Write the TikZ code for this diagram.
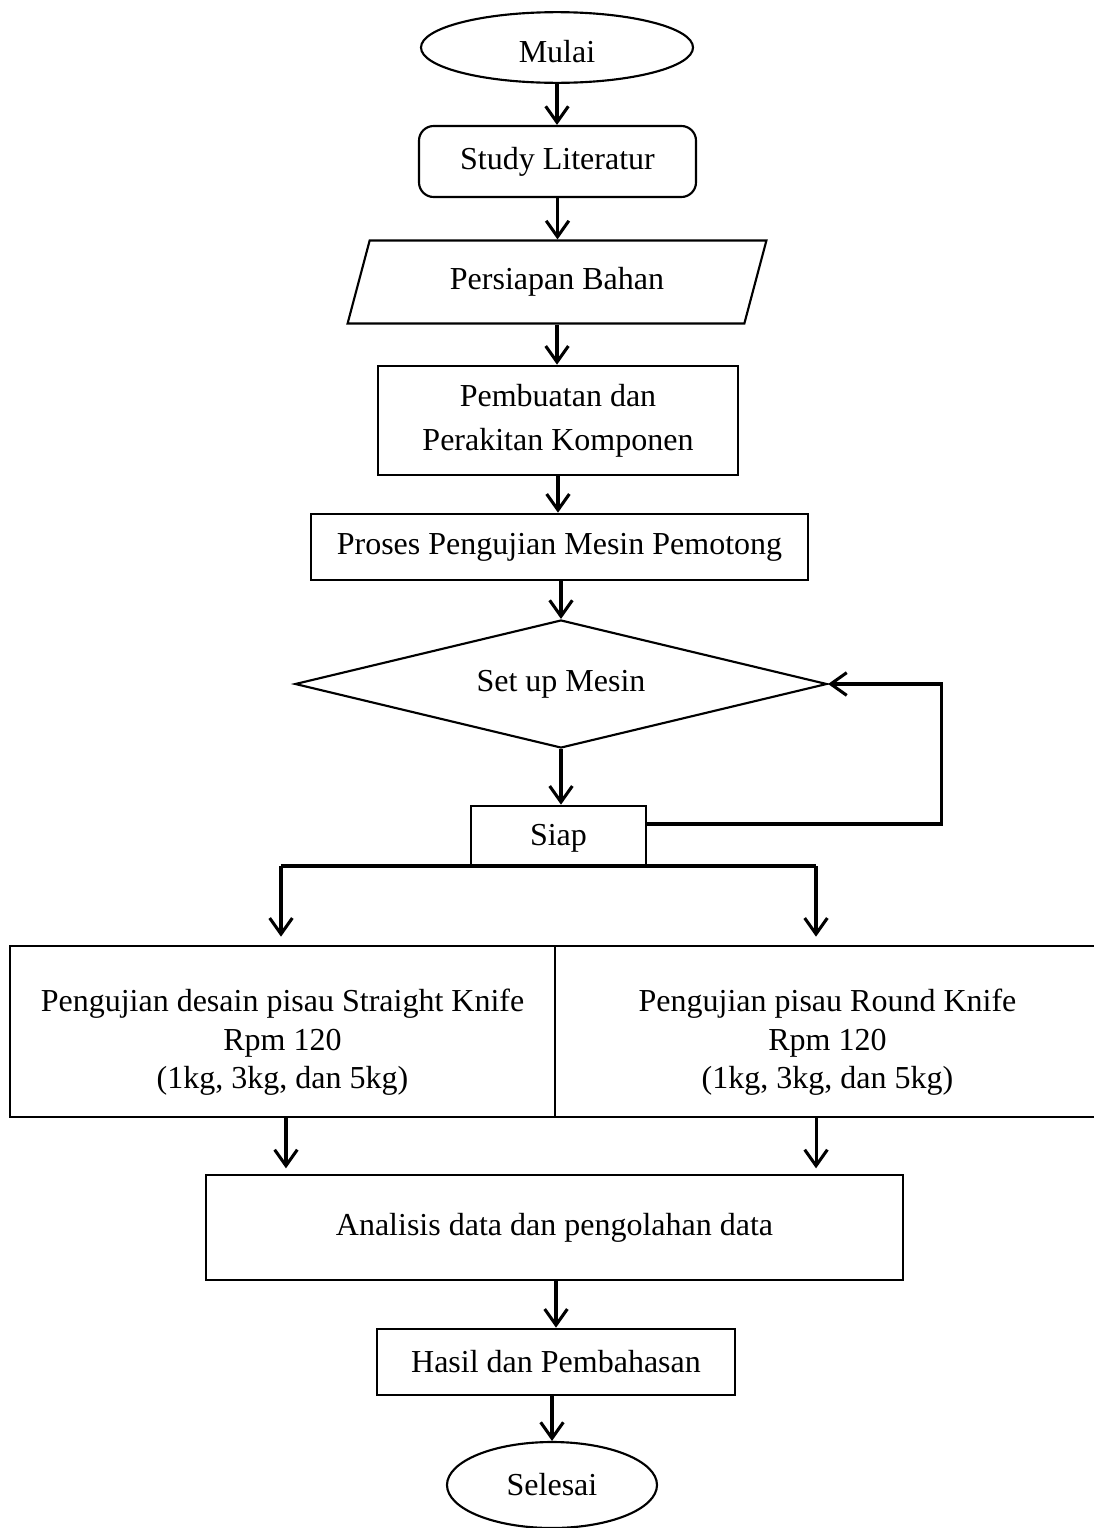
\documentclass[tikz,border=0pt]{standalone}
\usepackage{fontspec}
\setmainfont{Liberation Serif}
\usetikzlibrary{shapes.geometric,arrows.meta}

\tikzset{every picture/.style={line width=2pt}}
\tikzset{
	huruf/.style={font=\fontsize{24}{29}\selectfont, align=center},
	terminal/.style={huruf, draw, ellipse, inner sep=0pt, line width=1.6pt},
	kotak/.style={huruf, draw, rectangle, inner sep=0pt},
	kotakbulat/.style={kotak, rounded corners=11pt, line width=1.6pt},
	masukan/.style={huruf, draw, trapezium, trapezium stretches=true, trapezium left angle=66.5, trapezium right angle=113.5, inner sep=0pt, line width=1.6pt},
	keputusan/.style={huruf, draw, diamond, aspect=4.15, inner sep=0pt, line width=1.6pt},
	panah/.style={line width=2.3pt, -{Straight Barb[length=12pt,width=17pt]}}
}

\begin{document}
\begin{tikzpicture}[x=0.75pt,y=0.75pt,yscale=-1,xscale=1]
		\useasboundingbox (0,0) rectangle (1094,1528);
		\clip (0,0) rectangle (1094,1528);
		
		%Terminal: mulai
		\node (mulai) [terminal, minimum width=204pt, minimum height=53pt] at (557,47.5) {\rule{0pt}{22pt}Mulai};
		\node (studi) [kotakbulat, minimum width=207.75pt, minimum height=53.25pt] at (557.5,161.5) {Study Literatur};
		\node (bahan) [masukan, minimum width=315pt, minimum height=62.25pt] at (557,282) {Persiapan Bahan};
		\node (rakit) [kotak, font=\fontsize{24}{33}\selectfont, minimum width=270pt, minimum height=81.75pt] at (558,420.5) {Pembuatan dan\\Perakitan Komponen};
		\node (uji) [kotak, minimum width=372.75pt, minimum height=49.5pt] at (559.5,547) {Proses Pengujian Mesin Pemotong};
		%Decision: set up
		\node (setup) [keputusan, minimum width=399pt, minimum height=96pt] at (561,684) {Set up Mesin};
		\node (siap) [kotak, minimum width=131.25pt, minimum height=45pt] at (558.5,836) {\rule{0pt}{20pt}Siap};
		%Dua pengujian
		\node (lurus) [kotak, minimum width=408.75pt, minimum height=128.25pt] at (282.5,1031.5) {\rule{0pt}{33pt}Pengujian desain pisau Straight Knife\\Rpm 120\\(1kg, 3kg, dan 5kg)};
		\node (bulat) [kotak, minimum width=408.75pt, minimum height=128.25pt] at (827.5,1031.5) {\rule{0pt}{33pt}Pengujian pisau Round Knife\\Rpm 120\\(1kg, 3kg, dan 5kg)};
		\node (analisis) [kotak, minimum width=522.75pt, minimum height=78.75pt] at (554.5,1227.5) {Analisis data dan pengolahan data};
		\node (hasil) [kotak, minimum width=268.5pt, minimum height=49.5pt] at (556,1362) {Hasil dan Pembahasan};
		%Terminal: selesai
		\node (selesai) [terminal, minimum width=157.5pt, minimum height=64.5pt] at (552,1485) {Selesai};
		
		\coordinate (cabkiri) at (281,866);
		\coordinate (cabkanan) at (816,866);
		
		\draw [panah] (mulai.south) -- (mulai.south |- studi.north);
		\draw [panah] (studi.south) -- (studi.south |- bahan.north);
		\draw [panah] (bahan.south) -- (bahan.south |- rakit.north);
		\draw [panah] (rakit.south) -- (rakit.south |- uji.north);
		\draw [panah] (uji.south -| setup.north) -- (setup.north);
		\draw [panah] (setup.south) -- (setup.south |- siap.north);
		\draw [panah] ([yshift=-9pt]siap.east) -- ++(294,0) |- (setup.east);
		\draw [line width=2.3pt] (cabkiri) -- (cabkanan);
		\draw [panah, shorten >=6pt] (cabkiri) -- (cabkiri |- lurus.north);
		\draw [panah, shorten >=6pt] (cabkanan) -- (cabkanan |- bulat.north);
		\draw [panah, shorten >=4pt] ([xshift=2.6pt]lurus.south) -- ([xshift=2.6pt]lurus.south |- analisis.north);
		\draw [panah, shorten >=4pt] ([xshift=-8.6pt]bulat.south) -- ([xshift=-8.6pt]bulat.south |- analisis.north);
		\draw [panah] (analisis.south -| hasil.north) -- (hasil.north);
		\draw [panah] (hasil.south -| selesai.north) -- (selesai.north);
		
	\end{tikzpicture}
\end{document}
